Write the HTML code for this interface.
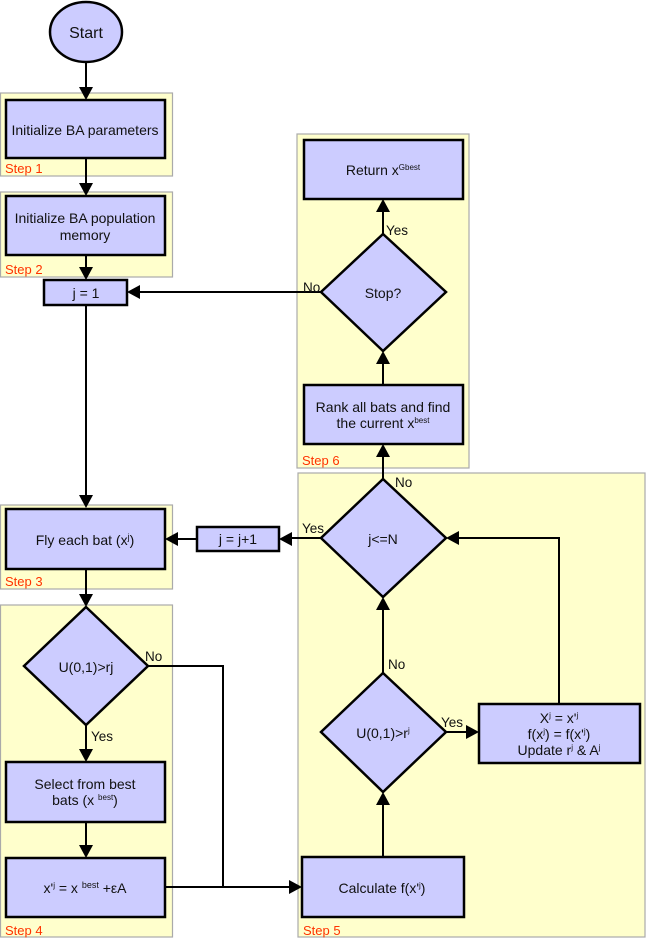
<!DOCTYPE html>
<html><head><meta charset="utf-8"><style>
html,body{margin:0;padding:0;background:#fff;}
svg{display:block;font-family:"Liberation Sans",Arial,sans-serif;}
.p{fill:#ffffcc;stroke:#aaa;stroke-width:1.2}
.b{fill:#ccccff;stroke:#000;stroke-width:2.5}
.l{stroke:#000;stroke-width:2;fill:none}
.t{font-size:14px;fill:#111;text-anchor:middle}
.s{font-size:13px;fill:#ff3300}
.n{font-size:13.5px;fill:#111}
.a{fill:#000}
</style></head><body>
<svg width="646" height="938" viewBox="0 0 646 938" xmlns="http://www.w3.org/2000/svg">
<rect class="p" x="0.5" y="93" width="172" height="83"/>
<rect class="p" x="0.5" y="192" width="172" height="85"/>
<rect class="p" x="0.5" y="505" width="172" height="84"/>
<rect class="p" x="0.5" y="605" width="172" height="332"/>
<rect class="p" x="298" y="473" width="347" height="464"/>
<rect class="p" x="297" y="134" width="172" height="334"/>
<text class="s" x="5" y="173">Step 1</text>
<text class="s" x="5" y="274">Step 2</text>
<text class="s" x="5" y="586">Step 3</text>
<text class="s" x="5" y="935">Step 4</text>
<text class="s" x="303" y="935">Step 5</text>
<text class="s" x="302" y="465">Step 6</text>

<path class="l" d="M86 63V92M86 158V186M86 255V270M86 305V498M86 569V597M86 725V753M86 822V848"/>
<path class="l" d="M148 666H223V887H292M165 887H223"/>
<path class="l" d="M383 857V802M383 673V607M383 479V454M383 385V361M383 234V209"/>
<path class="l" d="M446 732H469M559 704V538H456M321 538H289M197 539H175M321 292H137"/>
<g class="a">
<polygon points="79,87 93,87 86,100"/>
<polygon points="79,183 93,183 86,196"/>
<polygon points="79,267 93,267 86,280"/>
<polygon points="79,495 93,495 86,508"/>
<polygon points="79,594 93,594 86,607"/>
<polygon points="79,749 93,749 86,762"/>
<polygon points="79,845 93,845 86,858"/>
<polygon points="289,880 289,894 302,887"/>
<polygon points="376,805 390,805 383,792"/>
<polygon points="376,610 390,610 383,597"/>
<polygon points="376,457 390,457 383,444"/>
<polygon points="376,364 390,364 383,351"/>
<polygon points="376,212 390,212 383,199"/>
<polygon points="466,725 466,739 479,732"/>
<polygon points="459,531 459,545 446,538"/>
<polygon points="292,532 292,546 279,539"/>
<polygon points="178,532 178,546 165,539"/>
<polygon points="140,285 140,299 127,292"/>
</g>

<ellipse class="b" cx="86" cy="32" rx="36" ry="30"/>
<text class="t" x="86" y="38" style="font-size:16px">Start</text>

<rect class="b" x="6" y="100" width="159" height="58"/>
<text class="t" x="85" y="135">Initialize BA parameters</text>

<rect class="b" x="6" y="196" width="159" height="59"/>
<text class="t" x="85" y="223">Initialize BA population</text>
<text class="t" x="85" y="240">memory</text>

<rect class="b" x="44" y="280" width="83" height="25"/>
<text class="t" x="86" y="298">j = 1</text>

<rect class="b" x="6" y="509" width="159" height="60"/>
<text class="t" x="85" y="545">Fly each bat (x<tspan font-size="9" dy="-5">j</tspan><tspan dy="5">)</tspan></text>

<rect class="b" x="197" y="527" width="82" height="24"/>
<text class="t" x="238" y="544">j = j+1</text>

<polygon class="b" points="86,607 148,666 86,725 24,666"/>
<text class="t" x="86" y="672">U(0,1)&gt;rj</text>
<text class="n" x="145" y="661">No</text>
<text class="n" x="91" y="741">Yes</text>

<rect class="b" x="6" y="762" width="159" height="60"/>
<text class="t" x="85" y="789">Select from best</text>
<text class="t" x="85" y="805">bats (x <tspan font-size="8" dy="-5">best</tspan><tspan dy="5">)</tspan></text>

<rect class="b" x="6" y="858" width="159" height="59"/>
<text class="t" x="85" y="893">x'<tspan font-size="8" dy="-5">j</tspan><tspan dy="5"> = x </tspan><tspan font-size="9" dy="-5">best</tspan><tspan dy="5"> +εA</tspan></text>

<rect class="b" x="302" y="857" width="162" height="60"/>
<text class="t" x="382" y="893">Calculate f(x'<tspan font-size="8" dy="-5">j</tspan><tspan dy="5">)</tspan></text>

<polygon class="b" points="383,673 446,732 383,792 321,732"/>
<text class="t" x="383" y="738">U(0,1)&gt;r<tspan font-size="8" dy="-5">j</tspan></text>
<text class="n" x="388" y="669">No</text>
<text class="n" x="441" y="727">Yes</text>

<rect class="b" x="479" y="704" width="161" height="59"/>
<text class="t" x="559" y="723">X<tspan font-size="8" dy="-5">j</tspan><tspan dy="5"> = x'</tspan><tspan font-size="8" dy="-5">j</tspan></text>
<text class="t" x="559" y="739">f(x<tspan font-size="8" dy="-5">j</tspan><tspan dy="5">) = f(x'</tspan><tspan font-size="8" dy="-5">j</tspan><tspan dy="5">)</tspan></text>
<text class="t" x="559" y="755">Update r<tspan font-size="8" dy="-5">j</tspan><tspan dy="5"> &amp; A</tspan><tspan font-size="8" dy="-5">j</tspan></text>

<polygon class="b" points="383,479 446,538 383,597 321,538"/>
<text class="t" x="383" y="544">j&lt;=N</text>
<text class="n" x="395" y="487">No</text>
<text class="n" x="302" y="533">Yes</text>

<rect class="b" x="304" y="385" width="159" height="59"/>
<text class="t" x="383" y="412">Rank all bats and find</text>
<text class="t" x="383" y="428">the current x<tspan font-size="8" dy="-5">best</tspan></text>

<polygon class="b" points="383,234 446,292 383,351 321,292"/>
<text class="t" x="383" y="298">Stop?</text>
<text class="n" x="303" y="292">No</text>
<text class="n" x="386" y="235">Yes</text>

<rect class="b" x="304" y="140" width="159" height="59"/>
<text class="t" x="383" y="175">Return x<tspan font-size="8" dy="-5">Gbest</tspan></text>
</svg>
</body></html>
